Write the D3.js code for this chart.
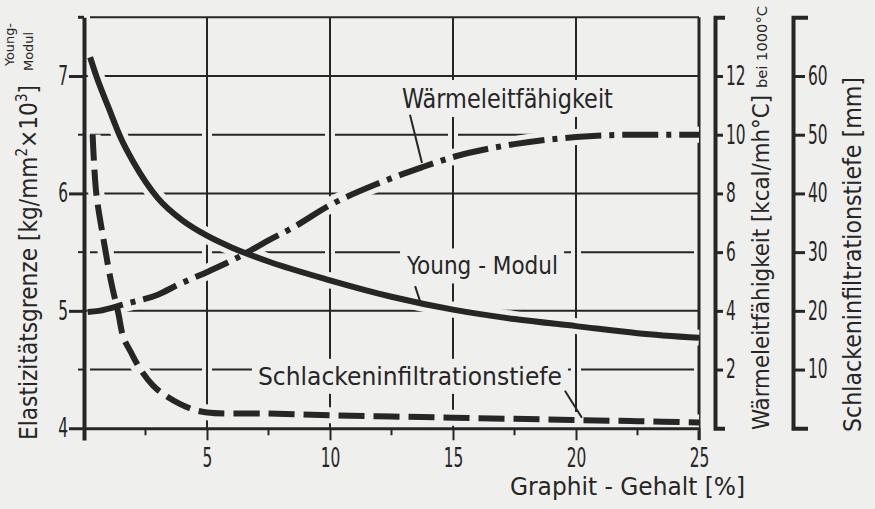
<!DOCTYPE html>
<html><head><meta charset="utf-8">
<script src="https://cdn.jsdelivr.net/npm/d3@7"></script>
<style>
html,body{margin:0;padding:0;background:#efefed;}
svg{display:block;}
text{font-family:"DejaVu Sans Condensed","Liberation Sans Narrow","DejaVu Sans",sans-serif;fill:#262626;}
</style></head><body>
<svg id="chart" width="875" height="509"></svg>
<script>
// ---------- data ----------
const xTicks = [5, 10, 15, 20, 25];
const xMinor = [2.5, 7.5, 12.5, 17.5, 22.5];
const eTicks = [4, 5, 6, 7];
const eHalf = [4.5, 5.5, 6.5];
const wTicks = [2, 4, 6, 8, 10, 12];
const sTicks = [10, 20, 30, 40, 50, 60];

// Young-Modul (Elastizitätsgrenze, kg/mm² x10³)
const youngX = [0.25, 0.5, 1, 1.5, 2, 3, 4, 5, 6, 7.5, 10, 12.5, 15, 17.5, 20, 22.5, 25];
const youngE = [7.16, 7.0, 6.73, 6.47, 6.27, 5.96, 5.77, 5.64, 5.54, 5.42, 5.26, 5.12, 5.01, 4.93, 4.87, 4.81, 4.77];
// Wärmeleitfähigkeit (kcal/mh°C)
const waermeX = [0.15, 0.6, 1.7, 3.0, 3.8, 5.1, 6.3, 7.5, 8.5, 10, 11.9, 13.7, 15, 17.5, 20, 22.5, 25];
const waermeK = [3.96, 4.0, 4.24, 4.55, 4.88, 5.36, 5.84, 6.4, 6.84, 7.6, 8.32, 8.88, 9.24, 9.68, 9.92, 10.0, 10.0];
// Schlackeninfiltrationstiefe (mm)
const schlackeX = [0.35, 0.5, 0.8, 1.1, 1.4, 1.6, 1.9, 2.3, 2.8, 3.3, 4.3, 5, 7.5, 10, 12.5, 15, 17.5, 20, 22.5, 25];
const schlackeS = [50, 40, 32, 25, 19.5, 15.5, 13, 10, 7.3, 5.6, 3.4, 2.7, 2.5, 2.2, 2.0, 1.8, 1.6, 1.4, 1.2, 1.0];

// ---------- layout ----------
const W = 875, H = 509;
const BG = "#efefed", INK = "#262626";
const svg = d3.select("#chart");
svg.append("rect").attr("width", W).attr("height", H).attr("fill", BG);

const x = d3.scaleLinear().domain([0, 25]).range([84, 699]);
const yE = d3.scaleLinear().domain([3.9, 7.5]).range([440, 17.3]);
const yW = d3.scaleLinear().domain([0, 14]).range([yE(4), yE(7.5)]);
const yS = d3.scaleLinear().domain([0, 70]).range([yE(4), yE(7.5)]);

// ---------- grid ----------
const grid = svg.append("g").attr("stroke", INK).attr("stroke-width", 2).attr("fill", "none");
[5, 6, 7].forEach(v => grid.append("line")
  .attr("x1", x(0) + 2).attr("x2", x(25)).attr("y1", yE(v)).attr("y2", yE(v)));
const cuts = [0, ...xTicks];
eHalf.forEach(v => {
  for (let i = 0; i < cuts.length - 1; i++) {
    grid.append("line")
      .attr("x1", x(cuts[i]) + (i === 0 ? 6 : 5)).attr("x2", x(cuts[i + 1]) - 5)
      .attr("y1", yE(v)).attr("y2", yE(v));
  }
});
xTicks.slice(0, -1).forEach(v => grid.append("line")
  .attr("x1", x(v)).attr("x2", x(v)).attr("y1", yE(7.5)).attr("y2", yE(4)));
grid.append("line").attr("x1", x(0) + 6).attr("x2", x(25)).attr("y1", yE(7.5)).attr("y2", yE(7.5));
grid.append("line").attr("x1", x(25)).attr("x2", x(25)).attr("y1", yE(7.5)).attr("y2", yE(3.9))
  .attr("stroke-width", 3);

// ---------- curves ----------
function pathOf(xs, ys, ysc, curve) {
  return d3.line().x(d => x(d[0])).y(d => ysc(d[1])).curve(curve)(xs.map((v, i) => [v, ys[i]]));
}
const curves = [
  { d: pathOf(youngX, youngE, yE, d3.curveMonotoneX), dash: null },
  { d: pathOf(waermeX, waermeK, yW, d3.curveMonotoneX), dash: "36,8,5,8" },
  { d: pathOf(schlackeX, schlackeS, yS, d3.curveCatmullRom.alpha(0.5)), dash: "26,9" }
];
const cg = svg.append("g").attr("fill", "none");
curves.forEach(c => cg.append("path").attr("d", c.d).attr("stroke", BG).attr("stroke-width", 16));
curves.forEach(c => cg.append("path").attr("d", c.d).attr("stroke", INK).attr("stroke-width", 6)
  .attr("stroke-dasharray", c.dash));

// ---------- annotations ----------
function label(txt, xs, xe, base, size) {
  const g = svg.append("g");
  const r = g.append("rect").attr("fill", BG);
  const t = g.append("text").attr("x", x(xs)).attr("y", yE(base)).attr("font-size", size)
    .attr("textLength", x(xe) - x(xs)).attr("lengthAdjust", "spacingAndGlyphs").text(txt);
  const b = t.node().getBBox();
  r.attr("x", b.x - 6).attr("y", b.y - 3).attr("width", b.width + 12).attr("height", b.height + 6);
}
function leader(a, b) {
  svg.append("line").attr("x1", x(a[0])).attr("y1", yE(a[1])).attr("x2", x(b[0])).attr("y2", yE(b[1]))
    .attr("stroke", INK).attr("stroke-width", 2);
}
label("Wärmeleitfähigkeit", 12.93, 21.5, 6.728, 27);
leader([13.25, 6.67], [13.74, 6.26]);
label("Young - Modul", 13.13, 19.27, 5.31, 25);
leader([13.46, 5.21], [13.68, 5.07]);
label("Schlackeninfiltrationstiefe", 7.07, 19.43, 4.37, 25);
leader([19.55, 4.32], [20.24, 4.09]);

// ---------- axes ----------
const DIGIT = 9.8;
function styleAxis(g, w) {
  g.attr("font-size", 26).attr("font-family", null);
  g.select(".domain").attr("stroke", INK).attr("stroke-width", w);
  g.selectAll(".tick line").attr("stroke", INK).attr("stroke-width", w - 1);
  g.selectAll(".tick text").attr("fill", INK)
    .attr("textLength", function () { return this.textContent.length * DIGIT; })
    .attr("lengthAdjust", "spacingAndGlyphs");
}
const fmt = d3.format("d");
// bottom
const bx = svg.append("g").attr("transform", `translate(0,${yE(4)})`)
  .call(d3.axisBottom(x).tickValues(xTicks).tickFormat(fmt).tickSize(12).tickSizeOuter(0));
styleAxis(bx, 3);
bx.selectAll(".tick text").attr("y", 39).attr("dy", null);
bx.selectAll(".minor").data(xMinor).enter().append("line").attr("class", "minor")
  .attr("x1", d => x(d)).attr("x2", d => x(d)).attr("y1", 0).attr("y2", 7)
  .attr("stroke", INK).attr("stroke-width", 2);

// left
const lx = svg.append("g").attr("transform", `translate(${x(0)},0)`)
  .call(d3.axisLeft(yE).tickValues(eTicks).tickFormat(fmt).tickSize(15).tickSizeOuter(0).tickPadding(1));
styleAxis(lx, 4);
lx.selectAll(".minor").data(eHalf).enter().append("line").attr("class", "minor")
  .attr("x1", -6).attr("x2", 0).attr("y1", d => yE(d)).attr("y2", d => yE(d))
  .attr("stroke", INK).attr("stroke-width", 2);
lx.append("line").attr("x1", -6).attr("x2", 0).attr("y1", yE(7.5)).attr("y2", yE(7.5))
  .attr("stroke", INK).attr("stroke-width", 3);

// right: Wärmeleitfähigkeit
const wx = svg.append("g").attr("transform", "translate(715,0)")
  .call(d3.axisRight(yW).tickValues(wTicks).tickFormat(fmt).tickSize(8).tickSizeOuter(10).tickPadding(3));
styleAxis(wx, 4);

// right: Schlackeninfiltrationstiefe
const sx = svg.append("g").attr("transform", "translate(793,0)")
  .call(d3.axisRight(yS).tickValues(sTicks).tickFormat(fmt).tickSize(12).tickSizeOuter(15).tickPadding(3));
styleAxis(sx, 4);

// ---------- axis titles ----------
function vtext(bx, sy, ey, size, parts) {
  const t = svg.append("text").attr("transform", `translate(${bx},${sy}) rotate(-90)`)
    .attr("font-size", size).attr("textLength", sy - ey).attr("lengthAdjust", "spacingAndGlyphs");
  parts.forEach(p => {
    const s = t.append("tspan").text(p.t);
    if (p.sup) s.attr("font-size", size * 0.62).attr("dy", -size * 0.38);
    if (p.back) s.attr("dy", size * 0.38);
  });
  return t;
}
vtext(36.5, 440, 85, 25, [
  { t: "Elastizitätsgrenze [kg/mm" }, { t: "2", sup: true }, { t: "×10", back: true },
  { t: "3", sup: true }, { t: "]", back: true }
]);
vtext(14, 66, 23, 12, [{ t: "Young-" }]);
vtext(33, 71, 32, 12, [{ t: "Modul" }]);
vtext(768.5, 430, 95, 23, [{ t: "Wärmeleitfähigkeit [kcal/mh°C]" }]);
vtext(767, 88, 6, 14, [{ t: "bei 1000°C" }]);
vtext(861, 432, 77, 25, [{ t: "Schlackeninfiltrationstiefe [mm]" }]);

svg.append("text").attr("x", 510).attr("y", 495).attr("font-size", 24)
  .attr("textLength", 235).attr("lengthAdjust", "spacingAndGlyphs").text("Graphit - Gehalt [%]");
</script>
</body></html>
